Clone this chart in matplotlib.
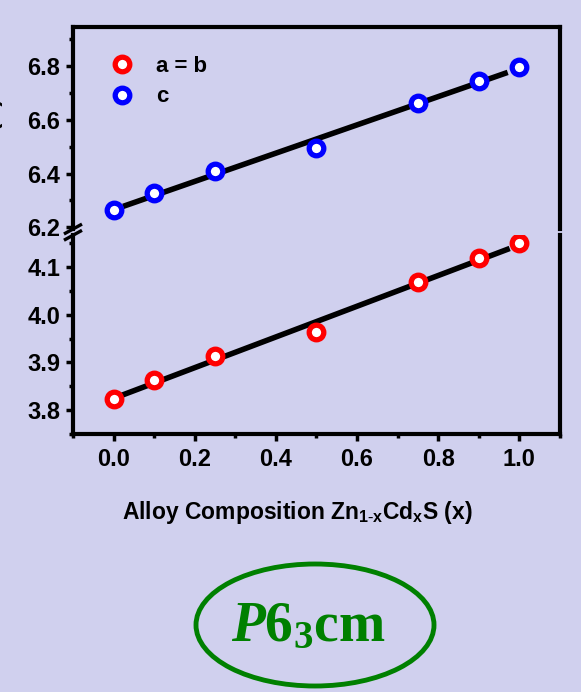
import numpy as np
import matplotlib
matplotlib.use('Agg')
import matplotlib.pyplot as plt
from matplotlib.patches import Ellipse
from matplotlib.ticker import MultipleLocator, FormatStrFormatter

# lattice parameters vs composition
x_comp = [0.0, 0.1, 0.25, 0.5, 0.75, 0.9, 1.0]
a_vals = [3.823, 3.863, 3.913, 3.964, 4.068, 4.119, 4.150]
c_vals = [6.263, 6.327, 6.409, 6.495, 6.663, 6.745, 6.797]

bg = '#d0d0ee'
plt.rcParams['font.family'] = ['Liberation Sans', 'DejaVu Sans']
plt.rcParams['font.weight'] = 'bold'
plt.rcParams['mathtext.fontset'] = 'custom'
plt.rcParams['mathtext.rm'] = 'Liberation Serif:bold'
plt.rcParams['mathtext.it'] = 'Liberation Serif:italic:bold'
plt.rcParams['mathtext.bf'] = 'Liberation Sans:bold'

fig = plt.figure(figsize=(5.81, 6.92), dpi=100, facecolor=bg)
ax_top = fig.add_axes([0.1256, 0.669, 0.838, 0.292])
ax_bot = fig.add_axes([0.1256, 0.373, 0.838, 0.287])

for ax in (ax_top, ax_bot):
    ax.set_facecolor('none')
    ax.set_xlim(-0.1, 1.1)
    for s in ax.spines.values():
        s.set_linewidth(3)
    ax.tick_params(which='major', direction='out', length=5, width=2.5, labelsize=17, pad=4)
    ax.tick_params(which='minor', direction='out', length=3, width=2.5)

mk = dict(marker='o', markersize=10.5, markeredgewidth=3.8, markerfacecolor='white', linestyle='none', zorder=3)

# top: c
ax_top.spines['bottom'].set_visible(False)
ax_top.set_ylim(6.193, 6.946)
ax_top.yaxis.set_major_locator(MultipleLocator(0.2))
ax_top.yaxis.set_minor_locator(MultipleLocator(0.1))
ax_top.tick_params(axis='x', which='both', bottom=False, labelbottom=False)
ax_top.plot(x_comp, c_vals, color='#0000ff', label='c', **mk)
p = np.polyfit(x_comp, c_vals, 1)
xf = np.array([0.03, 0.965])
ax_top.plot(xf, np.polyval(p, xf), color='black', lw=4, zorder=2)

# bottom: a = b
ax_bot.spines['top'].set_visible(False)
ax_bot.set_ylim(3.75, 4.167)
ax_bot.yaxis.set_major_locator(MultipleLocator(0.1))
ax_bot.yaxis.set_minor_locator(MultipleLocator(0.05))
ax_bot.xaxis.set_major_locator(MultipleLocator(0.2))
ax_bot.xaxis.set_minor_locator(MultipleLocator(0.1))
ax_bot.xaxis.set_major_formatter(FormatStrFormatter('%.1f'))
ax_bot.plot(x_comp, a_vals, color='#ff0000', label='a = b', **mk)
p = np.polyfit(x_comp, a_vals, 1)
xf = np.array([0.025, 0.97])
ax_bot.plot(xf, np.polyval(p, xf), color='black', lw=4, zorder=2)
ax_bot.tick_params(axis='x', pad=5)

# break marks on the left spine
d = 0.013
kw = dict(color='black', lw=2.4, clip_on=False, transform=fig.transFigure)
x0 = 0.1256
for yb in (0.660, 0.669):
    fig.add_artist(plt.Line2D([x0 - d, x0 + d], [yb - 0.006, yb + 0.006], **kw))

# legend
handles = ax_bot.get_lines()[:1] + ax_top.get_lines()[:1]
ax_top.legend(handles, ['a = b', 'c'], loc='upper left', bbox_to_anchor=(0.036, 0.955),
              frameon=False, handlelength=1.0, handletextpad=1.05, labelspacing=0.42,
              prop={'size': 16, 'weight': 'bold'})

ax_bot.set_xlabel(r'Alloy Composition Zn$_\mathbf{1\text{-}x}$Cd$_\mathbf{x}$S (x)', fontsize=16.5,
                  fontweight='bold', labelpad=20, x=0.462)

# y label mostly off the figure
fig.text(0.005, 1 - 98 / 692, 'Lattice Parameters (Å)', rotation=90, ha='right', va='top',
         fontsize=17, fontweight='bold')

# space group badge
fig.patches.append(Ellipse((315 / 581, 1 - 625 / 692), 238 / 581, 122 / 692, transform=fig.transFigure,
                           facecolor='none', edgecolor='#008000', lw=3.5))
fig.text(308 / 581, 1 - 627 / 692, r'$\mathit{P}\mathrm{6_3cm}$', color='#008000', fontsize=40,
         ha='center', va='center')

fig.savefig('out.png', dpi=100, facecolor=bg)
